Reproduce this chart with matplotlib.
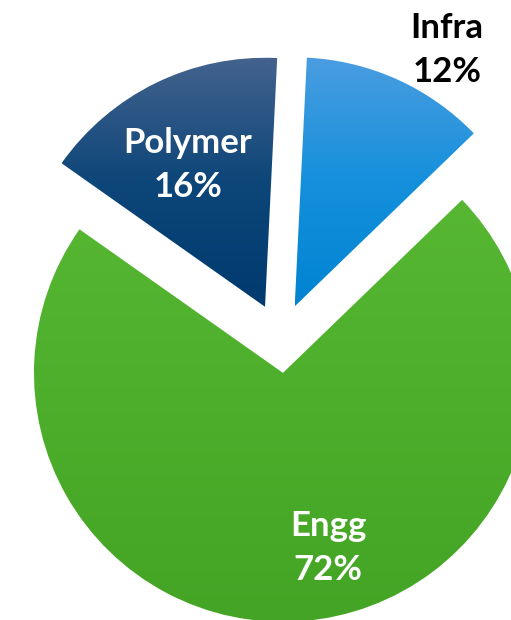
import numpy as np
import matplotlib
matplotlib.use("Agg")
import matplotlib.pyplot as plt
from matplotlib.colors import LinearSegmentedColormap

# Data
labels = ["Infra", "Polymer", "Engg"]
values = [12, 16, 72]
pct_labels = ["12%", "16%", "72%"]

# Styling
W, H = 511, 620
R = 249
explode = [0.14 * R, 0.14 * R, 0.14 * R]
grad_top = ["#4a9de0", "#44638e", "#57b733"]
grad_mid = ["#1590dc", "#0d4679", "#4cae2b"]
grad_bot = ["#0083d3", "#003a6e", "#44a425"]
text_colors = ["black", "white", "white"]
label_pos = [(447, 50), (188, 165), (328, 548)]  # pixel coords (y from top)

fig = plt.figure(figsize=(W / 100, H / 100), dpi=100)
ax = fig.add_axes([0, 0, 1, 1])
ax.set_xlim(0, W)
ax.set_ylim(0, H)

cx, cy = 280.3, H - 338.1
wedges, _ = ax.pie(values, explode=explode, startangle=44, counterclock=True,
                   center=(cx, cy), radius=R, frame=True,
                   wedgeprops=dict(linewidth=0))
ax.set_xlim(0, W)
ax.set_ylim(0, H)
ax.set_aspect("equal")

for i, w in enumerate(wedges):
    w.set_facecolor("none")
    verts = w.get_path().vertices
    x0, y0 = verts.min(axis=0)
    x1, y1 = verts.max(axis=0)
    cmap = LinearSegmentedColormap.from_list(
        "g%d" % i, [(0, grad_bot[i]), (0.5, grad_mid[i]), (1, grad_top[i])])
    grad = np.linspace(0, 1, 256).reshape(-1, 1)
    im = ax.imshow(grad, cmap=cmap, origin="lower", aspect="auto",
                   extent=[x0, x1, y0, y1], interpolation="bilinear", zorder=1)
    im.set_clip_path(w)

for i, (x, y) in enumerate(label_pos):
    ax.text(x, H - y, f"{labels[i]}\n{pct_labels[i]}", ha="center", va="center",
            color=text_colors[i], fontsize=25, fontweight="bold",
            family=["Lato", "DejaVu Sans"], linespacing=1.45, zorder=5)

ax.set_xlim(0, W)
ax.set_ylim(0, H)
ax.axis("off")
fig.savefig("out.png", dpi=100)
